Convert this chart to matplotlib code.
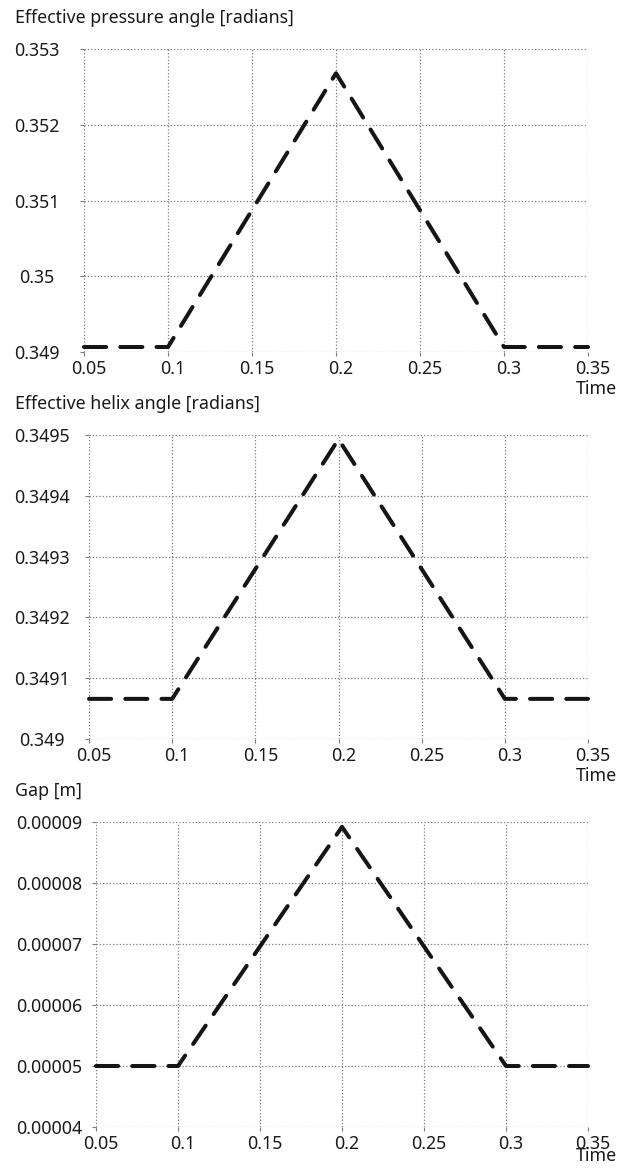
import matplotlib
matplotlib.use('Agg')
import matplotlib.pyplot as plt
from matplotlib.transforms import ScaledTranslation

plt.rcParams['font.family'] = ['Noto Sans', 'DejaVu Sans']

# data
time = [0.05, 0.1, 0.2, 0.3, 0.35]
pressure_angle = [0.349066, 0.349066, 0.35268, 0.349066, 0.349066]
helix_angle = [0.349066, 0.349066, 0.349493, 0.349066, 0.349066]
gap = [0.00005, 0.00005, 0.0000892, 0.00005, 0.00005]

x_ticks = [0.05, 0.1, 0.15, 0.2, 0.25, 0.3, 0.35]
x_labels = ['0.05', '0.1', '0.15', '0.2', '0.25', '0.3', '0.35']

pressure_ticks = [0.349, 0.350, 0.351, 0.352, 0.353]
pressure_labels = ['0.349', '0.35', '0.351', '0.352', '0.353']
helix_ticks = [0.349, 0.3491, 0.3492, 0.3493, 0.3494, 0.3495]
helix_labels = ['0.349', '0.3491', '0.3492', '0.3493', '0.3494', '0.3495']
gap_ticks = [0.00004, 0.00005, 0.00006, 0.00007, 0.00008, 0.00009]
gap_labels = ['0.00004', '0.00005', '0.00006', '0.00007', '0.00008', '0.00009']

titles = ['Effective pressure angle [radians]', 'Effective helix angle [radians]', 'Gap [m]']
series = [pressure_angle, helix_angle, gap]
yticks = [pressure_ticks, helix_ticks, gap_ticks]
ylabels = [pressure_labels, helix_labels, gap_labels]

W, H = 618, 1169
# axes boxes in pixels: left, top, right, bottom
boxes = [(84, 49, 588, 352), (89, 435, 588, 739), (96, 822, 588, 1127)]

FS = 12.8
txt_color = '#1a1a1a'
grid_color = '#7a7a7a'

fig = plt.figure(figsize=(W / 100, H / 100), dpi=100)
shift = ScaledTranslation(5 / 100, 0, fig.dpi_scale_trans)

for i in range(3):
    l, t, r, b = boxes[i]
    ax = fig.add_axes([l / W, 1 - b / H, (r - l) / W, (b - t) / H])
    ax.plot(time, series[i], color='#151515', lw=2.9, dashes=(5.5, 3.5),
            dash_capstyle='round', solid_joinstyle='miter', clip_on=False, zorder=3)
    ax.set_xlim(0.05, 0.35)
    ax.set_ylim(yticks[i][0], yticks[i][-1])
    ax.set_xticks(x_ticks, x_labels)
    ax.set_yticks(yticks[i], ylabels[i])
    ax.set_axisbelow(True)
    ax.grid(True, color=grid_color, linestyle=':', linewidth=0.9)
    for s in ax.spines.values():
        s.set_visible(False)
    ax.tick_params(length=3, color=grid_color, width=0.8, labelsize=FS, labelcolor=txt_color)
    ax.tick_params(axis='y', pad=31)
    ax.tick_params(axis='x', pad=3)
    for lab in ax.get_yticklabels():
        lab.set_ha('center')
    for lab in ax.get_xticklabels():
        lab.set_transform(lab.get_transform() + shift)

    fig.text(15 / W, 1 - (t - 31) / H, titles[i], ha='left', va='center',
             fontsize=FS, color=txt_color)
    time_y = min(b + 37, H - 13)
    fig.text(617 / W, 1 - time_y / H, 'Time', ha='right', va='center',
             fontsize=FS, color=txt_color)

fig.savefig('out.png', dpi=100)
